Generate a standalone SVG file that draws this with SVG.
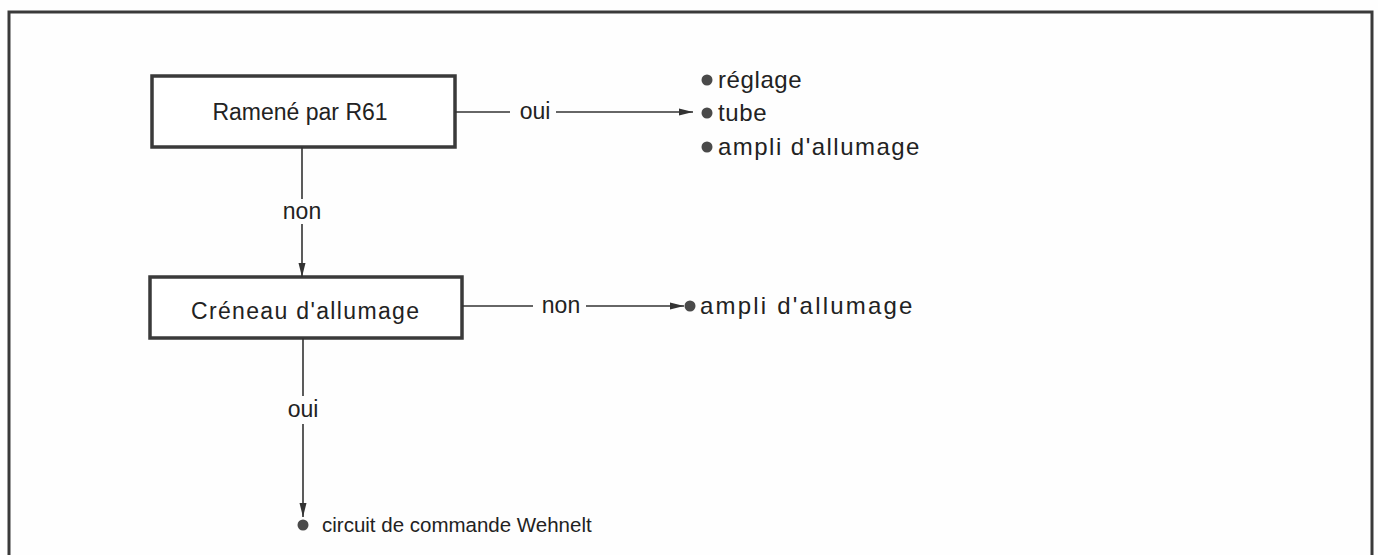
<svg xmlns="http://www.w3.org/2000/svg" width="1378" height="555" viewBox="0 0 1378 555">
<style>
text{font-family:"Liberation Sans",Arial,sans-serif;fill:#222;}
.box{fill:#fff;stroke:#3a3a3a;stroke-width:3.5;}
.ln{stroke:#333;stroke-width:1.6;fill:none;}
.lbl{font-size:23px;}
.bt{font-size:23px;}
.it{font-size:24px;letter-spacing:0.6px;}
.it2{font-size:20.5px;letter-spacing:0;}
.dot{fill:#4a4a4a;}
</style>
<defs>
<marker id="ah" viewBox="0 0 14 8" refX="14" refY="4" markerWidth="14" markerHeight="8" markerUnits="userSpaceOnUse" orient="auto">
<path d="M0,0.5 L14,4 L0,7.5 Z" fill="#333"/>
</marker>
</defs>
<rect x="0" y="0" width="1378" height="555" fill="#fefefe"/>
<path d="M9,555 L9,12 L1372,12 L1372,555" fill="none" stroke="#3a3a3a" stroke-width="3"/>
<g id="n1">
<rect class="box" x="152" y="76" width="303" height="71"/>
<text class="bt" x="300" y="120" text-anchor="middle">Ramené par R61</text>
</g>
<g id="n2">
<rect class="box" x="150" y="277" width="312" height="61"/>
<text class="bt" x="305" y="319" text-anchor="middle" textLength="228" lengthAdjust="spacing">Créneau d'allumage</text>
</g>
<g id="r1">
<circle class="dot" cx="707" cy="80" r="5.5"/>
<text class="it" x="718" y="88">réglage</text>
<circle class="dot" cx="707" cy="113" r="5.5"/>
<text class="it" x="718" y="121">tube</text>
<circle class="dot" cx="707" cy="147" r="5.5"/>
<text class="it" x="718" y="155" textLength="202" lengthAdjust="spacing">ampli d'allumage</text>
</g>
<g id="r2">
<circle class="dot" cx="690" cy="306" r="5.5"/>
<text class="it" x="700" y="314" textLength="213" lengthAdjust="spacing">ampli d'allumage</text>
</g>
<g id="r3">
<circle class="dot" cx="303" cy="525" r="5.5"/>
<text class="it2" x="322" y="532">circuit de commande Wehnelt</text>
</g>
<g id="connectors">
<line class="ln" x1="455" y1="112" x2="510" y2="112"/>
<text class="lbl" x="535" y="119" text-anchor="middle">oui</text>
<line class="ln" x1="556" y1="112" x2="693" y2="112" marker-end="url(#ah)"/>
<line class="ln" x1="302" y1="147" x2="302" y2="199"/>
<text class="lbl" x="302" y="219" text-anchor="middle">non</text>
<line class="ln" x1="302" y1="224" x2="302" y2="277" marker-end="url(#ah)"/>
<line class="ln" x1="462" y1="306" x2="533" y2="306"/>
<text class="lbl" x="561" y="313" text-anchor="middle">non</text>
<line class="ln" x1="586" y1="306" x2="684" y2="306" marker-end="url(#ah)"/>
<line class="ln" x1="303" y1="338" x2="303" y2="396"/>
<text class="lbl" x="303" y="417" text-anchor="middle">oui</text>
<line class="ln" x1="303" y1="424" x2="303" y2="517" marker-end="url(#ah)"/>
</g>
</svg>
